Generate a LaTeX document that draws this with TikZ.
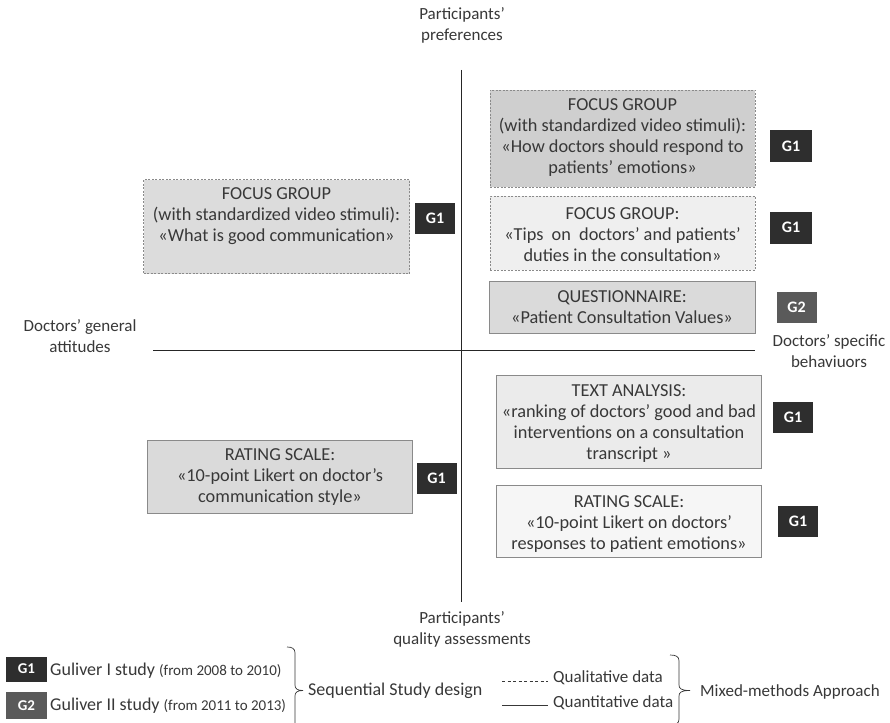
\documentclass[tikz,border=0pt]{standalone}
\usepackage{fontspec}
\setmainfont{Carlito}
\definecolor{badgedark}{HTML}{2E2E2E}
\definecolor{badgemid}{HTML}{5A5A5A}
\definecolor{boxline}{HTML}{8A8A8A}
\definecolor{txtgray}{HTML}{383838}
\definecolor{fillA}{HTML}{DCDCDC}
\definecolor{fillB}{HTML}{CFCFCF}
\definecolor{fillC}{HTML}{EFEFEF}
\definecolor{fillD}{HTML}{DADADA}
\definecolor{fillE}{HTML}{EBEBEB}
\definecolor{fillF}{HTML}{F6F6F6}
\begin{document}
\begin{tikzpicture}[x=1pt,y=-1pt,
  boxbase/.style={rectangle, draw=boxline, line width=0.8pt, inner sep=0pt},
  qualbox/.style={boxbase, dash pattern=on 2pt off 1.5pt},
  quantbox/.style={boxbase, line width=1pt},
  boxtxt/.style={align=center, text=txtgray, font=\fontsize{18.3}{21}\selectfont, inner sep=0pt},
  axlabel/.style={align=center, text=txtgray, font=\fontsize{17}{21}\selectfont, inner sep=0pt},
  badge/.style={rectangle, fill=badgedark, text=white, font=\fontsize{16}{18}\selectfont\bfseries, inner sep=0pt, minimum width=40pt, minimum height=31pt},
  legtxt/.style={anchor=west, text=txtgray, font=\fontsize{18}{21}\selectfont, inner sep=0pt},
  bracestyle/.style={draw=txtgray, line width=0.7pt}
]
\clip (0,0) rectangle (890,722);
\fill[white] (0,0) rectangle (890,722);

% axes
\coordinate (vtop) at (461.5,70);
\coordinate (vbot) at (461.5,602);
\coordinate (hleft) at (153,350.5);
\coordinate (hright) at (755,350.5);
\draw[line width=1.6pt, black!85] (vtop) -- (vbot);
\draw[line width=1.1pt, black!85] (hleft) -- (hright);

\node[axlabel] (pref) at (462,25) {Participants’\\preferences};
\node[axlabel] (gen) at (80,336) {Doctors’ general\\attitudes};
\node[axlabel] (spec) at (829,351) {Doctors’ specific\\behaviuors};
\node[axlabel] (qual) at (462,629.5) {Participants’\\quality assessments};

% upper-left focus group
\node[qualbox, fill=fillA, minimum width=266pt, minimum height=94pt] (fgA) at (276.5,226.5) {};
\node[boxtxt] (fgAt) at (276.5,216) {FOCUS GROUP\\(with standardized video stimuli):\\«What is good communication»};
\node[badge] (bA) at (435,218) {G1};

% upper-right focus group 1
\node[qualbox, fill=fillB, minimum width=265pt, minimum height=97pt] (fgB) at (622.5,138.5) {};
\node[boxtxt] (fgBt) at (622.5,137.5) {FOCUS GROUP\\(with standardized video stimuli):\\«How doctors should respond to\\patients’ emotions»};
\node[badge, minimum width=42pt, minimum height=32pt] (bB) at (791,146) {G1};

% upper-right focus group 2
\node[qualbox, fill=fillC, minimum width=265pt, minimum height=74pt] (fgC) at (622.5,233) {};
\node[boxtxt] (fgCt) at (622.5,235) {FOCUS GROUP:\\«Tips\ \ on\ \ doctors’ and patients’\\duties in the consultation»};
\node[badge, minimum width=42pt, minimum height=32pt] (bC) at (791,227.5) {G1};

% questionnaire
\node[quantbox, fill=fillD, minimum width=266pt, minimum height=52pt] (qn) at (622,307.5) {};
\node[boxtxt] (qnt) at (622,307.5) {QUESTIONNAIRE:\\«Patient Consultation Values»};
\node[badge, fill=badgemid, minimum width=40pt, minimum height=31pt] (bQ) at (796.5,307) {G2};

% text analysis
\node[quantbox, fill=fillE, minimum width=265pt, minimum height=93pt] (ta) at (629,421.5) {};
\node[boxtxt] (tat) at (629,423.5) {TEXT ANALYSIS:\\«ranking of doctors’ good and bad\\interventions on a consultation\\transcript »};
\node[badge] (bT) at (793,417) {G1};

% rating scale right
\node[quantbox, fill=fillF, minimum width=265pt, minimum height=72pt] (rsR) at (629,521) {};
\node[boxtxt] (rsRt) at (629,524) {RATING SCALE:\\«10-point Likert on doctors’\\responses to patient emotions»};
\node[badge] (bR) at (798,521) {G1};

% rating scale left
\node[quantbox, fill=fillD, minimum width=265pt, minimum height=73pt] (rsL) at (280,476.5) {};
\node[boxtxt] (rsLt) at (280,477.5) {RATING SCALE:\\«10-point Likert on doctor’s\\communication style»};
\node[badge] (bL) at (436.5,478) {G1};

% legend
\node[badge, minimum width=41pt, minimum height=25pt, font=\fontsize{15}{17}\selectfont\bfseries] (lg1) at (26.5,669) {G1};
\node[badge, fill=badgemid, minimum width=41pt, minimum height=27pt, font=\fontsize{15}{17}\selectfont\bfseries] (lg2) at (26.5,705.5) {G2};
\node[legtxt] (lg1t) at (50,671) {Guliver I study {\fontsize{15}{17}\selectfont (from 2008 to 2010)}};
\node[legtxt] (lg2t) at (50,706) {Guliver II study {\fontsize{15}{17}\selectfont (from 2011 to 2013)}};

% brace 1
\draw[bracestyle] (287,647) .. controls (292,647) and (295,648.5) .. (295,653)
  -- (295,685) .. controls (295,688.5) and (297,690.5) .. (303,690.5)
  .. controls (297,690.5) and (295,692.5) .. (295,696) -- (295,728)
  .. controls (295,732.5) and (292,734) .. (287,734);
\node[legtxt] (seq) at (308,690.5) {Sequential Study design};

\coordinate (dashA) at (502,681.5);
\coordinate (dashB) at (548,681.5);
\coordinate (solA) at (502,705.5);
\coordinate (solB) at (548,705.5);
\draw[line width=0.8pt, txtgray, dash pattern=on 3pt off 2.5pt] (dashA) -- (dashB);
\draw[line width=0.9pt, txtgray] (solA) -- (solB);
\node[legtxt, font=\fontsize{17}{20}\selectfont] (qlt) at (553,678) {Qualitative data};
\node[legtxt, font=\fontsize{17}{20}\selectfont] (qnt2) at (553,703) {Quantitative data};

% brace 2
\draw[bracestyle] (670,655) .. controls (676,655) and (679,656.5) .. (679,661)
  -- (679,685) .. controls (679,688.5) and (681,690.5) .. (690,690.5)
  .. controls (681,690.5) and (679,692.5) .. (679,696) -- (679,719)
  .. controls (679,723.5) and (676,725) .. (670,725);
\node[legtxt, font=\fontsize{17}{20}\selectfont] (mix) at (700,691.5) {Mixed-methods Approach};
\end{tikzpicture}
\end{document}
